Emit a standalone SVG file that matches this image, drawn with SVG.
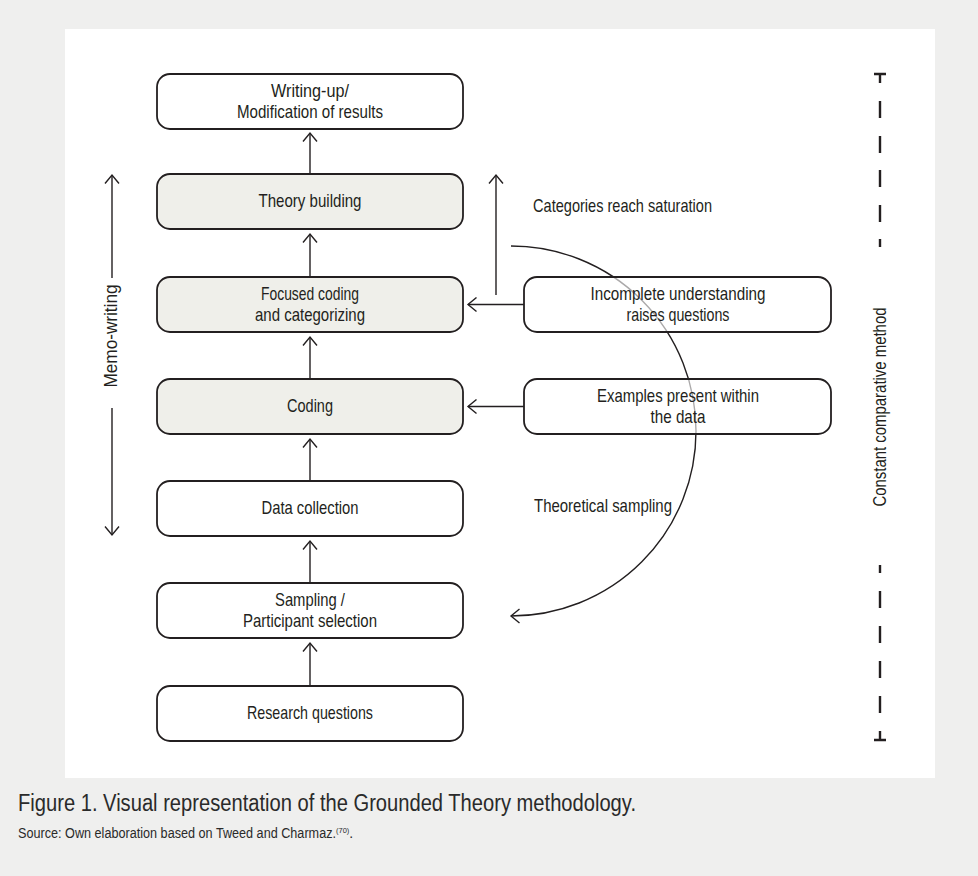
<svg xmlns="http://www.w3.org/2000/svg" width="978" height="876" viewBox="0 0 978 876">
<defs>
<marker id="chev" viewBox="-10 -8 12 16" markerWidth="12" markerHeight="16" refX="0" refY="0" orient="auto" markerUnits="userSpaceOnUse">
<path d="M-8.5,-7 L0,0 L-8.5,7" fill="none" stroke="#231f20" stroke-width="1.4"/>
</marker>
<style>
.box{fill:#ffffff;stroke:#231f20;stroke-width:1.8}
.shade{fill:#efefea;stroke:#231f20;stroke-width:1.8}
.rbox{fill:#ffffff;fill-opacity:0.62;stroke:#231f20;stroke-width:1.8}
.t{font-family:"Liberation Sans Narrow","Liberation Sans",Arial,sans-serif;font-size:19px;fill:#231f20;text-anchor:middle}
.lab{font-family:"Liberation Sans Narrow","Liberation Sans",Arial,sans-serif;font-size:19px;fill:#231f20}
.arr{fill:none;stroke:#231f20;stroke-width:1.4;marker-end:url(#chev)}
.dash{fill:none;stroke:#231f20;stroke-width:2.4}
.cap{font-family:"Liberation Sans Narrow","Liberation Sans",Arial,sans-serif;fill:#2a2a2a}
</style>
</defs>
<rect x="0" y="0" width="978" height="876" fill="#efefee"/>
<rect x="65" y="29" width="870" height="749" fill="#ffffff"/>

<g id="connectors">
<path class="arr" d="M511,246 A185,185 0 0 1 511,616"/>
<line class="arr" x1="310" y1="174" x2="310" y2="133"/>
<line class="arr" x1="310" y1="277" x2="310" y2="234"/>
<line class="arr" x1="310" y1="379" x2="310" y2="337"/>
<line class="arr" x1="310" y1="481" x2="310" y2="439"/>
<line class="arr" x1="310" y1="583" x2="310" y2="541"/>
<line class="arr" x1="310" y1="686" x2="310" y2="643"/>
<line class="arr" x1="524" y1="304.5" x2="468" y2="304.5"/>
<line class="arr" x1="524" y1="406.5" x2="468" y2="406.5"/>
<line class="arr" x1="496" y1="295" x2="496" y2="175"/>
<line class="arr" x1="112" y1="278" x2="112" y2="175"/>
<line class="arr" x1="112" y1="408" x2="112" y2="535"/>
</g>

<g id="writing-up">
<rect class="box" x="157" y="74" width="306" height="55" rx="13"/>
<text class="t" x="310" y="97" textLength="78" lengthAdjust="spacingAndGlyphs">Writing-up/</text>
<text class="t" x="310" y="118" textLength="146" lengthAdjust="spacingAndGlyphs">Modification of results</text>
</g>
<g id="theory-building">
<rect class="shade" x="157" y="174" width="306" height="55" rx="13"/>
<text class="t" x="310" y="207" textLength="103" lengthAdjust="spacingAndGlyphs">Theory building</text>
</g>
<g id="focused-coding">
<rect class="shade" x="157" y="277" width="306" height="55" rx="13"/>
<text class="t" x="310" y="300" textLength="98" lengthAdjust="spacingAndGlyphs">Focused coding</text>
<text class="t" x="310" y="321" textLength="110" lengthAdjust="spacingAndGlyphs">and categorizing</text>
</g>
<g id="coding">
<rect class="shade" x="157" y="379" width="306" height="55" rx="13"/>
<text class="t" x="310" y="412" textLength="46" lengthAdjust="spacingAndGlyphs">Coding</text>
</g>
<g id="data-collection">
<rect class="box" x="157" y="481" width="306" height="55" rx="13"/>
<text class="t" x="310" y="514" textLength="97" lengthAdjust="spacingAndGlyphs">Data collection</text>
</g>
<g id="sampling">
<rect class="box" x="157" y="583" width="306" height="55" rx="13"/>
<text class="t" x="310" y="606" textLength="70" lengthAdjust="spacingAndGlyphs">Sampling /</text>
<text class="t" x="310" y="627" textLength="134" lengthAdjust="spacingAndGlyphs">Participant selection</text>
</g>
<g id="research-questions">
<rect class="box" x="157" y="686" width="306" height="55" rx="13"/>
<text class="t" x="310" y="719" textLength="126" lengthAdjust="spacingAndGlyphs">Research questions</text>
</g>
<g id="incomplete-understanding">
<rect class="rbox" x="524" y="277" width="307" height="55" rx="13"/>
<text class="t" x="678" y="300" textLength="175" lengthAdjust="spacingAndGlyphs">Incomplete understanding</text>
<text class="t" x="678" y="321" textLength="103" lengthAdjust="spacingAndGlyphs">raises questions</text>
</g>
<g id="examples-present">
<rect class="rbox" x="524" y="379" width="307" height="55" rx="13"/>
<text class="t" x="678" y="402" textLength="162" lengthAdjust="spacingAndGlyphs">Examples present within</text>
<text class="t" x="678" y="423" textLength="55" lengthAdjust="spacingAndGlyphs">the data</text>
</g>

<g id="labels">
<text class="lab" x="533" y="212" textLength="179" lengthAdjust="spacingAndGlyphs">Categories reach saturation</text>
<text class="lab" x="534" y="512" textLength="138" lengthAdjust="spacingAndGlyphs">Theoretical sampling</text>
<text class="t" transform="translate(117,336) rotate(-90)" x="0" y="0" textLength="103" lengthAdjust="spacingAndGlyphs">Memo-writing</text>
</g>

<g id="constant-comparative-method">
<path class="dash" d="M874,74 H886 M880,74 V83 M880,101 V118 M880,136 V153 M880,170 V187 M880,205 V222 M880,239 V247"/>
<path class="dash" d="M880,565 V573 M880,591 V608 M880,626 V643 M880,661 V678 M880,696 V713 M880,731 V740 M874,740 H886"/>
<text class="t" transform="translate(886,407) rotate(-90)" x="0" y="0" textLength="199" lengthAdjust="spacingAndGlyphs">Constant comparative method</text>
</g>

<g id="caption">
<text class="cap" x="18" y="811" font-size="23" textLength="618" lengthAdjust="spacingAndGlyphs">Figure 1. Visual representation of the Grounded Theory methodology.</text>
<text class="cap" x="18" y="838" font-size="14"><tspan textLength="318" lengthAdjust="spacingAndGlyphs">Source: Own elaboration based on Tweed and Charmaz.</tspan><tspan font-size="7.5" baseline-shift="5">(70)</tspan><tspan>.</tspan></text>
</g>
</svg>
